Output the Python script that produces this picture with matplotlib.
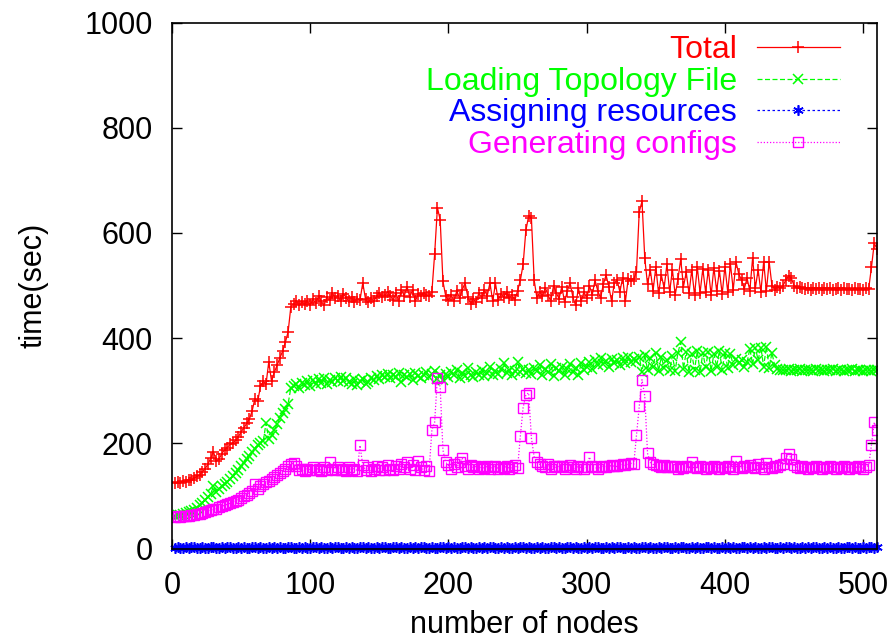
import matplotlib
matplotlib.use("Agg")
import matplotlib.pyplot as plt
import numpy as np

plt.rcParams["font.family"] = ["Liberation Sans", "DejaVu Sans"]

# every second node count, 2..510
nodes = np.arange(2, 511, 2)

total = [
    124, 126, 125, 128, 127, 130, 131, 134, 137, 140, 146, 152, 160, 172, 184, 166, 170, 180, 188, 192,
    198, 200, 206, 212, 222, 229, 238, 246, 262, 285, 280, 308, 318, 312, 355, 318, 335, 348, 362, 375,
    392, 412, 460, 465, 470, 462, 468, 465, 470, 462, 474, 466, 480, 470, 462, 478, 472, 486, 476, 480,
    470, 484, 477, 470, 478, 468, 475, 472, 505, 474, 468, 476, 470, 480, 486, 478, 482, 488, 480, 472,
    486, 470, 492, 480, 498, 478, 492, 470, 484, 480, 486, 482, 480, 488, 560, 648, 625, 508, 480, 472,
    482, 470, 490, 476, 492, 505, 478, 465, 474, 468, 486, 476, 492, 480, 505, 470, 504, 472, 484, 478,
    488, 476, 482, 472, 490, 510, 540, 605, 632, 628, 510, 476, 488, 480, 496, 482, 470, 500, 486, 475,
    498, 468, 490, 505, 478, 462, 495, 470, 488, 476, 500, 482, 510, 490, 476, 502, 520, 498, 470, 505,
    510, 488, 515, 470, 512, 508, 512, 526, 640, 660, 552, 502, 530, 490, 535, 485, 520, 495, 540, 488,
    530, 482, 512, 550, 498, 525, 485, 530, 482, 535, 486, 532, 488, 530, 482, 534, 490, 528, 484, 536,
    488, 540, 492, 545, 522, 510, 494, 514, 490, 552, 495, 530, 488, 545, 490, 545, 500, 492, 498, 495,
    500, 510, 518, 514, 500, 496, 498, 495, 494, 496, 492, 496, 494, 495, 492, 495, 493, 496, 492, 494,
    495, 492, 496, 493, 494, 491, 495, 493, 494, 492, 495, 494, 535, 580, 570,
]

loading = [
    62, 63, 64, 65, 67, 69, 71, 74, 77, 82, 87, 92, 98, 104, 118, 108, 114, 118, 122, 127,
    132, 137, 143, 150, 156, 162, 170, 176, 183, 190, 196, 200, 204, 238, 208, 216, 226, 236, 248, 258,
    266, 275, 306, 308, 312, 306, 315, 310, 318, 308, 320, 312, 322, 315, 325, 312, 320, 316, 324, 318,
    326, 318, 324, 316, 312, 322, 310, 318, 322, 312, 316, 324, 320, 328, 322, 330, 326, 332, 324, 330,
    326, 334, 316, 330, 326, 332, 320, 334, 328, 324, 330, 336, 326, 332, 338, 322, 330, 320, 332, 326,
    336, 330, 340, 324, 334, 328, 344, 330, 326, 336, 330, 340, 328, 334, 346, 330, 338, 332, 342, 352,
    334, 340, 330, 338, 354, 336, 342, 334, 340, 332, 344, 338, 348, 330, 342, 336, 350, 328, 344, 338,
    346, 330, 342, 350, 336, 344, 330, 352, 340, 346, 354, 342, 358, 348, 362, 350, 356, 346, 360, 352,
    358, 348, 362, 352, 364, 354, 360, 356, 365, 336, 368, 340, 362, 346, 372, 338, 364, 344, 358, 340,
    366, 338, 372, 392, 342, 374, 336, 370, 340, 375, 335, 372, 345, 374, 338, 370, 346, 376, 340, 372,
    344, 370, 348, 360, 352, 358, 346, 354, 380, 350, 382, 358, 382, 346, 384, 344, 372, 348, 341, 340,
    340, 339, 341, 338, 340, 339, 341, 338, 340, 339, 340, 338, 341, 339, 340, 338, 340, 339, 341, 338,
    340, 339, 338, 340, 339, 341, 338, 340, 339, 338, 340, 339, 338, 340, 339,
]

assigning = [
    1, 2, 1, 1, 2, 1, 2, 2, 1, 1, 2, 1, 1, 2, 2, 1, 1, 2, 1, 2,
    2, 1, 1, 2, 1, 2, 1, 1, 2, 2, 1, 2, 1, 1, 2, 1, 2, 1, 2, 1,
    1, 2, 2, 1, 1, 2, 1, 2, 1, 1, 2, 2, 1, 2, 1, 1, 2, 1, 2, 2,
    1, 1, 2, 1, 2, 1, 1, 2, 2, 1, 2, 1, 1, 2, 1, 2, 2, 1, 1, 2,
    2, 1, 2, 1, 1, 2, 1, 2, 1, 2, 2, 1, 1, 2, 1, 1, 2, 2, 1, 2,
    1, 2, 1, 1, 2, 2, 1, 2, 1, 1, 2, 1, 2, 1, 2, 2, 1, 1, 2, 1,
    2, 1, 1, 2, 1, 2, 2, 1, 2, 1, 1, 2, 1, 2, 1, 1, 2, 2, 1, 2,
    1, 1, 2, 2, 1, 2, 1, 1, 2, 1, 2, 1, 2, 2, 1, 1, 2, 1, 2, 1,
    2, 2, 1, 1, 2, 1, 2, 1, 1, 2, 2, 1, 2, 1, 1, 2, 1, 2, 2, 1,
    1, 2, 1, 2, 2, 1, 1, 2, 1, 2, 1, 1, 2, 2, 1, 2, 1, 1, 2, 1,
    2, 1, 2, 1, 1, 2, 2, 1, 2, 1, 2, 1, 1, 2, 1, 2, 2, 1, 1, 2,
    1, 2, 2, 1, 2, 1, 1, 2, 1, 2, 1, 2, 2, 1, 1, 2, 1, 2, 1, 1,
    2, 1, 1, 2, 2, 1, 2, 1, 1, 2, 1, 2, 2, 1, 2,
]

generating = [
    60, 61, 60, 61, 62, 62, 63, 64, 65, 66, 68, 70, 72, 73, 75, 76, 78, 80, 82, 84,
    86, 88, 90, 93, 96, 99, 102, 106, 110, 122, 114, 118, 122, 126, 128, 132, 136, 140, 144, 148,
    152, 156, 160, 162, 156, 150, 152, 148, 152, 150, 154, 150, 152, 148, 154, 150, 164, 152, 150, 154,
    150, 152, 148, 154, 150, 152, 148, 196, 158, 150, 154, 148, 152, 156, 150, 154, 150, 158, 152, 150,
    156, 152, 160, 154, 164, 152, 158, 150, 166, 154, 150, 156, 148, 225, 240, 325, 307, 187, 164, 158,
    152, 160, 154, 164, 172, 156, 152, 158, 154, 156, 152, 155, 153, 156, 152, 154, 156, 152, 155, 153,
    156, 152, 154, 158, 153, 214, 268, 292, 296, 210, 174, 164, 160, 156, 154, 160, 152, 156, 154, 156,
    156, 152, 154, 158, 154, 152, 156, 154, 152, 155, 174, 156, 154, 152, 155, 157, 154, 156, 158, 156,
    156, 158, 160, 158, 160, 162, 160, 216, 270, 321, 290, 181, 164, 160, 158, 156, 154, 158, 155, 157,
    154, 156, 152, 155, 153, 156, 154, 165, 155, 153, 156, 154, 152, 155, 153, 156, 154, 152, 155, 153,
    156, 154, 152, 166, 155, 153, 156, 154, 158, 155, 153, 160, 154, 152, 162, 155, 153, 156, 154, 158,
    160, 172, 180, 170, 158, 155, 153, 156, 154, 152, 155, 153, 156, 154, 152, 155, 153, 156, 154, 152,
    155, 153, 156, 154, 152, 155, 153, 156, 154, 152, 155, 158, 197, 240, 225,
]

FS = 22

fig = plt.figure(figsize=(8.94, 6.42), dpi=100)
ax = fig.add_axes([172 / 894, 1 - 548.5 / 642, 705 / 894, 526 / 642])

ax.plot(nodes, total, color="#ff0000", lw=0.9, ls="-", marker="+",
        ms=9, mew=1.1, label="Total")
ax.plot(nodes, loading, color="#00ff00", lw=0.9, ls=(0, (4, 2)), marker="x",
        ms=7, mew=1.1, label="Loading Topology File")
ax.plot(nodes, assigning, color="#0000ff", lw=0.9, ls=(0, (2, 2)), marker=(6, 2, 0),
        ms=7.5, mew=1.2, label="Assigning resources", clip_on=False)
ax.plot(nodes, generating, color="#ff00ff", lw=0.9, ls=(0, (1, 1.5)), marker="s",
        ms=7, mew=1.0, mfc="none", label="Generating configs")

ax.set_xlim(0, 510)
ax.set_ylim(0, 1000)
ax.set_xticks([0, 100, 200, 300, 400, 500])
ax.set_yticks([0, 200, 400, 600, 800, 1000])
ax.tick_params(direction="in", length=7, width=1, top=True, right=True,
               labelsize=FS)
ax.tick_params(axis="x", pad=16)
ax.tick_params(axis="y", pad=14)
for s in ax.spines.values():
    s.set_linewidth(1.2)

ax.set_xlabel("number of nodes", fontsize=FS, labelpad=7)
ax.set_ylabel("time(sec)", fontsize=FS, labelpad=26)

ax.legend(loc="upper right", bbox_to_anchor=(0.9475, 0.976), borderaxespad=0,
          borderpad=0, frameon=False, markerfirst=False, labelcolor="linecolor",
          fontsize=23, handlelength=2.6, handletextpad=0.63, labelspacing=0.05,
          numpoints=1)

fig.savefig("out.png", dpi=100)
